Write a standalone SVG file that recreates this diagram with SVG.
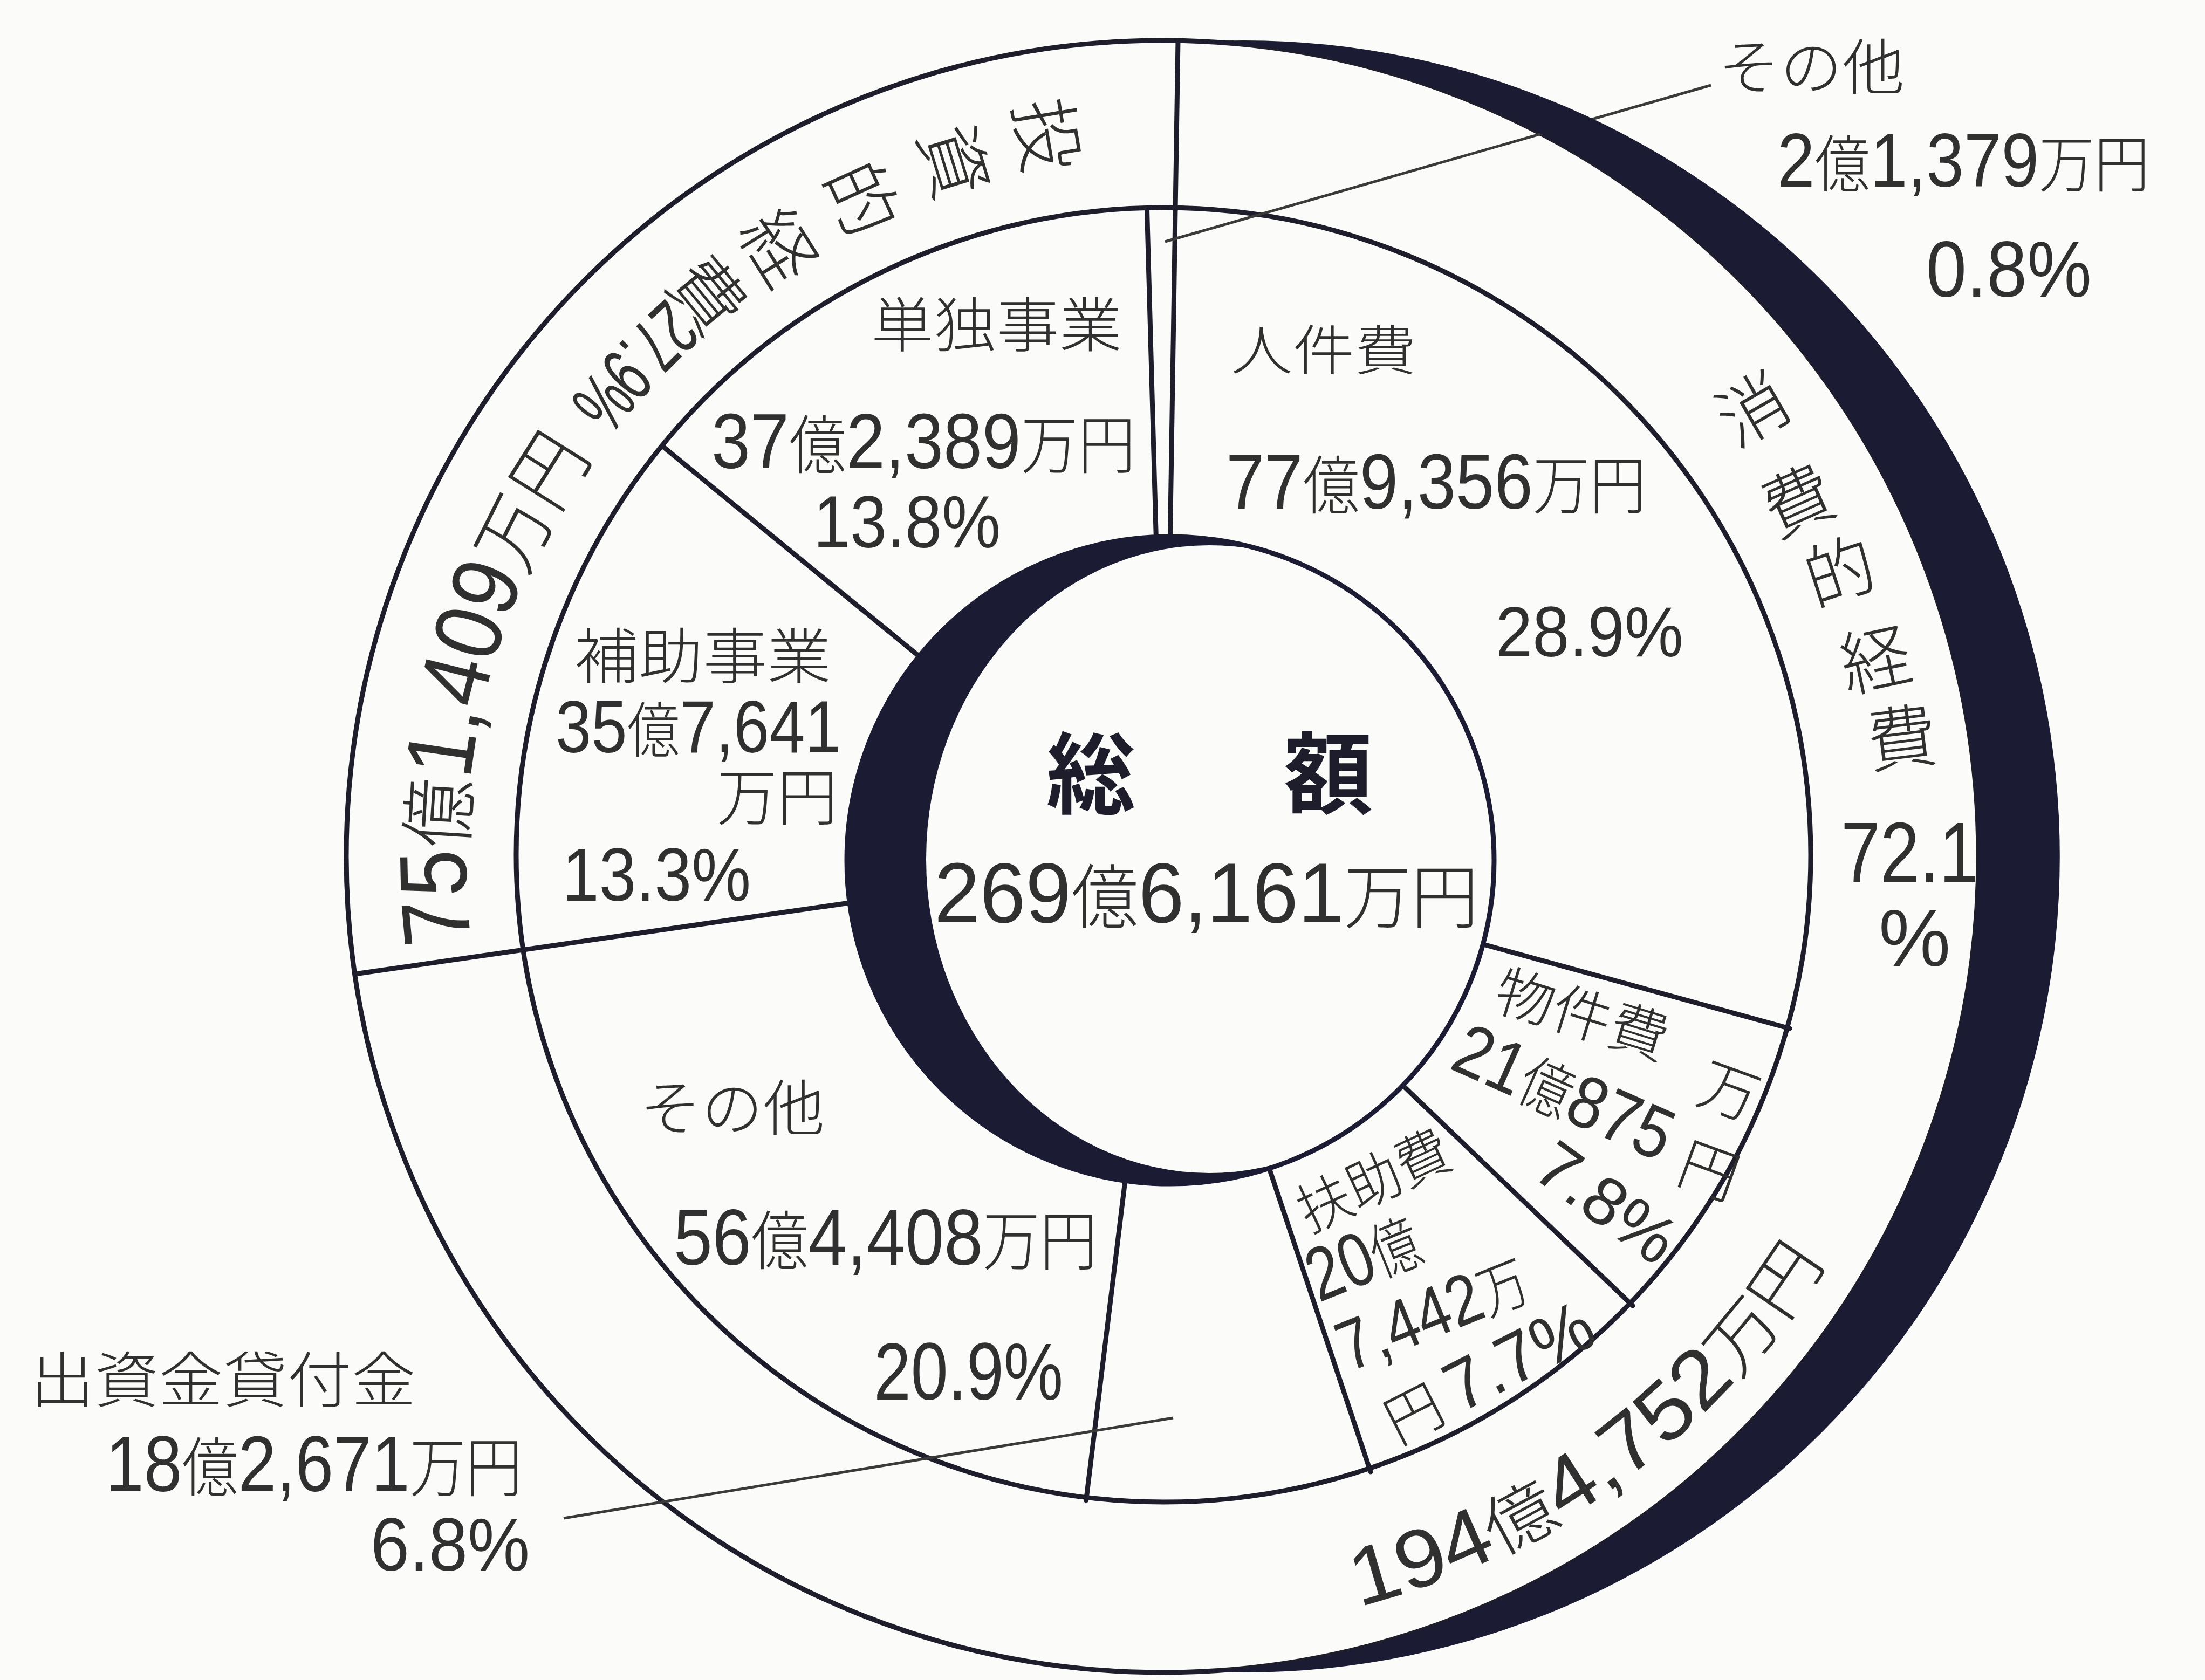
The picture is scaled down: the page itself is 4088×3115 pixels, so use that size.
<svg xmlns="http://www.w3.org/2000/svg" width="4088" height="3115" viewBox="0 0 4088 3115">
<defs>
<style>
.ln{stroke:#1d1d2b;stroke-width:9;fill:none;stroke-linecap:round}
.ld{stroke:#3a3a3a;stroke-width:5;fill:none}
.t{font-family:"Noto Sans CJK JP","Noto Sans CJK SC",sans-serif;font-weight:300;fill:#303030}
.b{font-weight:bold;fill:#1d1d2b}
.n{font-family:"Liberation Sans Narrow","Liberation Sans",sans-serif;font-size:1.22em}
.m{font-family:"Liberation Sans Narrow","Liberation Sans",sans-serif}
</style>
<path id="p194" d="M2458.4 2993.6 A1435 1435 0 0 0 3427 2263.7"/>
<path id="p75" d="M883.7 1815 A1296 1296 0 0 1 1167.2 756.9"/>
<path id="p279" d="M1266.5 525.3 A1390 1390 0 0 0 1007.7 812.7"/>
</defs>
<rect width="4088" height="3115" fill="#fbfbfa"/>

<g id="rings">
<circle class="ln" cx="2155" cy="1588" r="1513"/>
<circle class="ln" cx="2157" cy="1585" r="1200"/>
</g>

<g id="connectors">
<line class="ln" x1="2169" y1="1020" x2="2184" y2="76"/>
<line class="ln" x1="2144" y1="1020" x2="2126.5" y2="389.5"/>
<line class="ln" x1="1719" y1="1229" x2="1230.6" y2="829.3"/>
<line class="ln" x1="1596" y1="1671" x2="658" y2="1806"/>
<line class="ln" x1="2710" y1="1740" x2="3318" y2="1907"/>
<line class="ln" x1="2571" y1="1984" x2="3027" y2="2421"/>
<line class="ln" x1="2341" y1="2130" x2="2541" y2="2729"/>
<line class="ln" x1="2090" y1="2156" x2="2013.6" y2="2782"/>
<line class="ld" x1="2160" y1="448" x2="3172" y2="158"/>
<line class="ld" x1="1045" y1="2815" x2="2175" y2="2629"/>
</g>

<g id="band">
<path d="M2230 76.9 A1513 1513 0 1 1 2230 3099.1 A1513 1513 0 0 0 2230 76.9 Z" fill="#1b1b33"/>
</g>

<g id="center">
<circle cx="2170" cy="1595" r="600" fill="#1b1b33"/>
<ellipse cx="2242" cy="1593" rx="525" ry="582" fill="#fbfbfa"/>
<circle cx="2170" cy="1595" r="600" fill="none" stroke="#1b1b33" stroke-width="9"/>
<text class="t b" x="1940" y="1496" font-size="165">総</text>
<text class="t b" x="2380" y="1496" font-size="165">額</text>
<text class="t" x="1732" y="1710" font-size="130" textLength="1009" lengthAdjust="spacingAndGlyphs"><tspan class="n">269</tspan>億<tspan class="n">6,161</tspan>万円</text>
</g>

<g id="node-sonota-small">
<text class="t" x="3185" y="166" font-size="112" textLength="346" lengthAdjust="spacingAndGlyphs">その他</text>
<text class="t" x="3295" y="346" font-size="115" textLength="690" lengthAdjust="spacingAndGlyphs"><tspan class="n">2</tspan>億<tspan class="n">1,379</tspan>万円</text>
<text class="t m" x="3571" y="550" font-size="147" textLength="307" lengthAdjust="spacingAndGlyphs">0.8%</text>
</g>

<g id="node-tandoku">
<text class="t" x="1615" y="643" font-size="110" textLength="465" lengthAdjust="spacingAndGlyphs">単独事業</text>
<text class="t" x="1319" y="868" font-size="118" textLength="786" lengthAdjust="spacingAndGlyphs"><tspan class="n">37</tspan>億<tspan class="n">2,389</tspan>万円</text>
<text class="t m" x="1508" y="1015" font-size="137" textLength="347" lengthAdjust="spacingAndGlyphs">13.8%</text>
</g>

<g id="node-jinkenhi">
<text class="t" x="2282" y="686" font-size="100" textLength="344" lengthAdjust="spacingAndGlyphs">人件費</text>
<text class="t" x="2273" y="943" font-size="118" textLength="779" lengthAdjust="spacingAndGlyphs"><tspan class="n">77</tspan>億<tspan class="n">9,356</tspan>万円</text>
<text class="t m" x="2773" y="1217" font-size="131" textLength="348" lengthAdjust="spacingAndGlyphs">28.9%</text>
</g>

<g id="node-hojo">
<text class="t" x="1065" y="1258" font-size="112" textLength="476" lengthAdjust="spacingAndGlyphs">補助事業</text>
<text class="t" x="1030" y="1395" font-size="112" textLength="529" lengthAdjust="spacingAndGlyphs"><tspan class="n">35</tspan>億<tspan class="n">7,641</tspan></text>
<text class="t" x="1329" y="1520" font-size="115" textLength="224" lengthAdjust="spacingAndGlyphs">万円</text>
<text class="t m" x="1042" y="1670" font-size="140" textLength="350" lengthAdjust="spacingAndGlyphs">13.3%</text>
</g>

<g id="node-sonota">
<text class="t" x="1186" y="2096" font-size="112" textLength="343" lengthAdjust="spacingAndGlyphs">その他</text>
<text class="t" x="1249" y="2345" font-size="120" textLength="785" lengthAdjust="spacingAndGlyphs"><tspan class="n">56</tspan>億<tspan class="n">4,408</tspan>万円</text>
<text class="t m" x="1620" y="2595" font-size="150" textLength="351" lengthAdjust="spacingAndGlyphs">20.9%</text>
</g>

<g id="node-shusshi">
<text class="t" x="56" y="2600" font-size="112" textLength="715" lengthAdjust="spacingAndGlyphs">出資金貸付金</text>
<text class="t" x="196" y="2765" font-size="120" textLength="772" lengthAdjust="spacingAndGlyphs"><tspan class="n">18</tspan>億<tspan class="n">2,671</tspan>万円</text>
<text class="t m" x="687" y="2912" font-size="140" textLength="295" lengthAdjust="spacingAndGlyphs">6.8%</text>
</g>

<g id="node-bukkenhi">
<text class="t" transform="translate(2933 1882) rotate(17)" x="0" y="37" font-size="105" text-anchor="middle" textLength="330" lengthAdjust="spacingAndGlyphs">物件費</text>
<text class="t" transform="translate(2897 2031) rotate(24)" x="0" y="40" font-size="112" text-anchor="middle" textLength="430" lengthAdjust="spacingAndGlyphs"><tspan class="n">21</tspan>億<tspan class="n">875</tspan></text>
<text class="t" transform="translate(3205 2025) rotate(20)" x="0" y="38" font-size="110" text-anchor="middle">万</text>
<text class="t" transform="translate(3168 2172) rotate(20)" x="0" y="38" font-size="110" text-anchor="middle">円</text>
<text class="t m" transform="translate(2980 2228) rotate(36)" x="0" y="45" font-size="125" text-anchor="middle" textLength="290" lengthAdjust="spacingAndGlyphs">7.8%</text>
</g>

<g id="node-fujohi">
<text class="t" transform="translate(2547 2190) rotate(-25)" x="0" y="37" font-size="105" text-anchor="middle" textLength="300" lengthAdjust="spacingAndGlyphs">扶助費</text>
<text class="t" transform="translate(2530 2338) rotate(-22)" x="0" y="40" font-size="115" text-anchor="middle" textLength="215" lengthAdjust="spacingAndGlyphs"><tspan class="n">20</tspan>億</text>
<text class="t" transform="translate(2658 2440) rotate(-22)" x="0" y="38" font-size="108" text-anchor="middle" textLength="370" lengthAdjust="spacingAndGlyphs"><tspan class="n">7,442</tspan>万</text>
<text class="t" transform="translate(2762 2550) rotate(-27)" x="0" y="38" font-size="108" text-anchor="middle" textLength="420" lengthAdjust="spacingAndGlyphs">円 <tspan class="n">7.7%</tspan></text>
</g>

<g id="node-shohiteki">
<g class="t" font-size="130" text-anchor="middle">
<text transform="translate(3251 761) rotate(-30)" y="45">消</text>
<text transform="translate(3334 931) rotate(-24)" y="45">費</text>
<text transform="translate(3412 1062) rotate(-18)" y="45">的</text>
<text transform="translate(3478 1226) rotate(-12)" y="45">経</text>
<text transform="translate(3526 1371) rotate(-7)" y="45">費</text>
</g>
<text class="t m" x="3413" y="1636" font-size="160" textLength="255" lengthAdjust="spacingAndGlyphs">72.1</text>
<text class="t m" x="3483" y="1791" font-size="150">%</text>
<text class="t" font-size="125"><textPath href="#p194" startOffset="62" textLength="1102" lengthAdjust="spacingAndGlyphs"><tspan class="n">194</tspan>億<tspan class="n">4,752</tspan>万円</textPath></text>
</g>

<g id="node-toshiteki">
<g class="t" font-size="135" text-anchor="middle">
<text transform="translate(1938 250) rotate(80.5)" y="47">投</text>
<text transform="translate(1767 300) rotate(73)" y="47">資</text>
<text transform="translate(1595 370) rotate(65.5)" y="47">的</text>
<text transform="translate(1442 460) rotate(58)" y="47">経</text>
<text transform="translate(1310 548) rotate(50.6)" y="47">費</text>
</g>
<text class="t m" font-size="145"><textPath href="#p279" startOffset="40" textLength="268" lengthAdjust="spacingAndGlyphs">27.9%</textPath></text>
<text class="t" font-size="145"><textPath href="#p75" startOffset="68" textLength="950" lengthAdjust="spacingAndGlyphs"><tspan class="n" font-size="1.18em">75</tspan>億<tspan class="n">1,409</tspan>万円</textPath></text>
</g>
</svg>
